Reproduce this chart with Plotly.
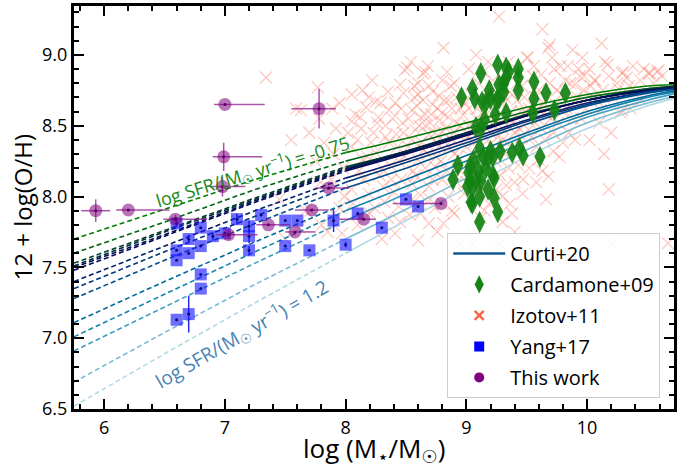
import plotly.graph_objects as go

# ---------------- data ----------------
# Curti+20 model curves: y values at X_GRID, one row per log SFR curve (top = -0.75, bottom = 1.2)
X_GRID = [5.75, 6.5, 7.25, 8.0, 8.5, 9.0, 9.5, 10.0, 10.5, 10.75]
CURTI = [
    [7.70, 7.91, 8.12, 8.31, 8.41, 8.52, 8.63, 8.72, 8.78, 8.79],
    [7.60, 7.82, 8.05, 8.25, 8.36, 8.48, 8.60, 8.70, 8.76, 8.78],
    [7.53, 7.76, 7.99, 8.21, 8.32, 8.45, 8.58, 8.68, 8.76, 8.78],
    [7.51, 7.75, 7.98, 8.20, 8.32, 8.45, 8.57, 8.68, 8.75, 8.78],
    [7.50, 7.73, 7.97, 8.19, 8.31, 8.44, 8.57, 8.68, 8.75, 8.77],
    [7.48, 7.72, 7.96, 8.18, 8.30, 8.43, 8.57, 8.68, 8.75, 8.77],
    [7.40, 7.65, 7.90, 8.13, 8.26, 8.40, 8.54, 8.66, 8.74, 8.77],
    [7.35, 7.61, 7.86, 8.10, 8.24, 8.38, 8.53, 8.65, 8.74, 8.76],
    [7.28, 7.55, 7.81, 8.06, 8.20, 8.36, 8.51, 8.64, 8.73, 8.76],
    [7.11, 7.40, 7.68, 7.95, 8.12, 8.29, 8.45, 8.60, 8.71, 8.75],
    [7.01, 7.31, 7.61, 7.90, 8.07, 8.25, 8.43, 8.58, 8.70, 8.74],
    [6.91, 7.22, 7.53, 7.83, 8.02, 8.21, 8.39, 8.56, 8.68, 8.73],
    [6.69, 7.04, 7.38, 7.70, 7.91, 8.13, 8.33, 8.52, 8.66, 8.71],
    [6.52, 6.89, 7.25, 7.60, 7.83, 8.06, 8.28, 8.48, 8.64, 8.70],
]
DASH_LIMIT = 8.0  # curves are dashed below this mass

# Cardamone+09
CARD_X = [8.96, 9.05, 9.07, 9.12, 9.13, 9.19, 9.20, 9.26, 9.27, 9.27, 9.33, 9.35, 9.43, 9.43, 9.33,
          9.31, 9.43, 9.56, 9.66, 9.56, 9.82, 9.73, 9.55, 9.33, 9.24, 9.15, 9.08, 9.12, 9.31, 9.25,
          9.16, 9.11, 9.14, 9.20, 9.22, 9.18, 9.38, 9.44, 9.47, 9.61, 9.06, 9.03, 8.93, 8.89, 9.03,
          9.08, 9.12, 9.23, 9.01, 9.05, 9.18, 9.11, 9.23, 9.04, 9.05, 9.26, 9.11, 9.16, 9.10, 9.02,
          9.22, 9.28]
CARD_Y = [8.70, 8.76, 8.69, 8.87, 8.67, 8.75, 8.69, 8.93, 8.79, 8.69, 8.91, 8.88, 8.90, 8.84, 8.84,
          8.74, 8.75, 8.81, 8.73, 8.69, 8.73, 8.61, 8.59, 8.59, 8.58, 8.54, 8.49, 8.48, 8.80, 8.68,
          8.66, 8.34, 8.28, 8.32, 8.28, 8.27, 8.31, 8.34, 8.29, 8.28, 8.26, 8.21, 8.22, 8.12, 8.11,
          8.11, 8.11, 8.13, 8.07, 8.06, 8.05, 8.00, 7.99, 7.96, 7.95, 7.89, 7.82, 8.20, 8.18, 8.17,
          8.15, 8.32]

# Izotov+11
IZO_X = [7.34, 7.59, 7.63, 7.77, 7.78, 7.89, 7.79, 7.67, 7.71, 7.85, 7.97, 7.95, 7.90, 7.62, 7.45, 7.99, 7.93,
         8.05, 8.19, 8.25, 8.12, 8.05, 8.27, 8.36, 8.41, 8.36, 8.14, 8.25, 8.38, 8.19, 8.32, 8.44, 8.41,
         8.45, 8.48, 8.47, 8.49, 8.23, 8.10, 8.30, 8.15, 8.05, 8.42, 8.33, 8.20, 8.10, 8.30, 8.49, 8.05, 8.40,
         8.51, 8.64, 8.66, 8.60, 8.69, 8.80, 8.77, 8.55, 8.62, 8.71, 8.80, 8.58, 8.69, 8.80, 8.60, 8.74,
         8.55, 8.69, 8.80, 8.62, 8.74, 8.69, 8.81, 8.60, 8.81, 8.52, 8.65, 8.78, 8.88, 8.92, 8.95, 8.85,
         8.57, 8.90, 8.95, 8.85, 8.94, 8.90, 8.56, 8.72, 8.66, 8.53, 8.88, 8.98, 8.75,
         9.05, 9.27, 9.27, 9.02, 9.10, 9.15, 9.05, 9.00, 9.20, 9.25, 9.30, 9.35, 9.40, 9.45, 9.48, 9.38,
         9.42, 9.10, 9.30, 9.20, 9.35, 9.40, 9.30, 9.38, 9.465, 9.15, 9.05, 9.00, 9.25, 9.45, 9.50, 9.35,
         9.18, 9.12, 9.48, 9.02, 9.22, 9.32, 9.40, 9.08,
         9.51, 9.63, 9.68, 9.69, 9.71, 9.78, 9.88, 9.96, 9.94, 9.90, 9.975, 9.92, 9.80, 9.70, 9.60, 9.55,
         9.65, 9.60, 9.77, 9.68, 9.85, 9.75, 9.55, 9.60, 9.95, 9.58, 9.82, 9.52,
         10.06, 10.07, 10.12, 10.15, 10.17, 10.25, 10.29, 10.30, 10.41, 10.51, 10.52, 10.58, 10.59, 10.28,
         10.29, 10.11, 10.18, 10.21, 10.67, 10.05, 10.35, 10.02,
         8.02, 8.08, 8.13, 8.17, 8.21, 8.26, 8.29, 8.33, 8.35, 8.39, 8.43, 8.46, 8.44, 8.28, 8.18, 8.11,
         8.37, 8.48, 8.22, 8.14, 8.31, 8.46, 8.06, 8.24, 8.35, 8.45,
         8.52, 8.55, 8.57, 8.59, 8.61, 8.63, 8.64, 8.66, 8.68, 8.70, 8.72, 8.74, 8.76, 8.78, 8.79, 8.82,
         8.83, 8.85, 8.86, 8.88, 8.90, 8.92, 8.93, 8.95, 8.97, 8.99, 8.54, 8.68, 8.84, 8.58, 8.66, 8.72,
         8.84, 8.92, 8.98, 8.70, 8.80, 8.90, 8.62, 8.76, 8.55, 8.87, 8.60, 8.75,
         9.02, 9.04, 9.06, 9.09, 9.11, 9.13, 9.16, 9.18, 9.21, 9.23, 9.26, 9.28, 9.30, 9.32, 9.34, 9.37,
         9.39, 9.42, 9.44, 9.46, 9.49, 9.03, 9.08, 9.14, 9.19, 9.24, 9.28, 9.33, 9.36, 9.43, 9.47, 9.12,
         9.30, 9.08, 9.22, 9.40, 9.46, 9.14, 9.26,
         9.52, 9.54, 9.57, 9.59, 9.62, 9.64, 9.66, 9.69, 9.72, 9.74, 9.76, 9.79, 9.83, 9.86, 9.88, 9.91,
         9.93, 9.97, 9.99, 9.56, 9.62, 9.73, 9.84, 9.58, 9.63, 9.72, 9.80, 9.90, 9.66,
         10.03, 10.08, 10.13, 10.18, 10.22, 10.26, 10.33, 10.38, 10.44, 10.47, 10.55, 10.62, 10.10, 10.20,
         10.36, 10.45, 10.02, 10.14,
         7.70, 7.82, 7.92, 7.98, 7.88, 7.75, 7.55, 7.95, 7.80, 7.50]
IZO_Y = [8.84, 8.62, 8.61, 8.77, 8.55, 8.62, 8.10, 7.90, 7.90, 7.75, 7.74, 8.66, 8.30, 7.78, 7.98, 8.00, 7.86,
         8.72, 8.70, 8.67, 8.56, 8.53, 8.56, 8.61, 8.66, 8.38, 8.26, 8.31, 8.12, 8.02, 7.96, 7.93, 7.74,
         8.79, 8.73, 8.52, 8.28, 8.45, 8.40, 8.20, 8.12, 8.35, 8.44, 8.50, 7.88, 7.80, 7.70, 8.89, 8.05, 8.03,
         8.91, 8.87, 8.88, 8.80, 8.78, 8.82, 8.71, 8.61, 8.56, 8.58, 8.59, 8.47, 8.44, 8.46, 8.26, 8.21,
         8.09, 8.07, 8.12, 8.01, 7.92, 7.81, 7.81, 7.69, 9.05, 8.35, 8.33, 8.36, 8.40, 8.52, 8.62, 8.68,
         8.70, 8.30, 8.18, 8.00, 7.67, 8.80, 8.18, 8.65, 8.50, 7.87, 7.90, 8.40, 8.28,
         7.67, 7.67, 9.27, 8.90, 8.80, 8.60, 8.45, 8.35, 8.45, 8.55, 8.65, 8.50, 8.45, 8.60, 8.70, 8.72,
         8.80, 8.40, 8.40, 8.20, 8.20, 8.10, 8.00, 7.88, 8.02, 7.90, 8.20, 8.10, 8.05, 8.35, 8.98, 8.95,
         8.95, 8.70, 8.50, 8.62, 8.35, 8.30, 7.75, 8.55,
         8.98, 9.18, 9.05, 9.07, 8.98, 8.92, 9.035, 8.98, 8.85, 8.79, 8.85, 8.70, 8.60, 8.55, 8.62, 8.50,
         8.40, 8.26, 8.28, 8.14, 8.45, 8.75, 8.85, 8.75, 8.55, 8.35, 8.82, 8.20,
         8.82, 8.82, 9.08, 8.95, 8.93, 8.80, 8.87, 8.88, 8.74, 8.87, 8.87, 8.88, 8.89, 8.59,
         8.61, 8.61, 8.05, 7.67, 7.67, 8.70, 8.78, 8.90,
         8.45, 8.58, 8.48, 8.63, 8.38, 8.52, 8.66, 8.42, 8.74, 8.55, 8.35, 8.62, 8.25, 8.15, 8.28, 8.18,
         8.22, 8.45, 8.82, 8.75, 8.07, 8.12, 7.95, 7.92, 7.85, 7.82,
         8.55, 8.40, 8.78, 8.64, 8.50, 8.38, 8.68, 8.58, 8.30, 8.52, 8.74, 8.45, 8.62, 8.54, 8.25, 8.68,
         8.48, 8.56, 8.35, 8.62, 8.45, 8.70, 8.28, 8.50, 8.58, 8.66, 8.95, 8.92, 8.88, 8.15, 8.20, 8.12,
         8.18, 8.10, 8.02, 7.98, 7.95, 7.88, 7.88, 7.75, 7.98, 8.78, 8.72, 8.38,
         8.50, 8.72, 8.38, 8.62, 8.48, 8.30, 8.52, 8.40, 8.62, 8.50, 8.42, 8.58, 8.48, 8.70, 8.38, 8.60,
         8.52, 8.68, 8.48, 8.42, 8.60, 8.28, 8.15, 8.05, 7.95, 8.25, 8.15, 8.08, 7.95, 8.22, 8.12, 7.85,
         7.82, 9.00, 8.82, 8.88, 8.78, 8.88, 8.72,
         8.62, 8.42, 8.70, 8.55, 8.48, 8.66, 8.58, 8.80, 8.45, 8.65, 8.52, 8.72, 8.62, 8.80, 8.55, 8.68,
         8.90, 8.75, 8.62, 8.92, 8.86, 8.90, 8.92, 8.10, 8.18, 8.32, 8.38, 8.40, 7.98,
         8.78, 8.68, 8.75, 8.85, 8.70, 8.76, 8.84, 8.92, 8.82, 8.90, 8.80, 8.85, 8.52, 8.45,
         8.62, 8.68, 8.40, 8.30,
         8.45, 8.38, 8.48, 8.20, 8.12, 8.25, 8.40, 7.92, 7.80, 7.70]

# Yang+17
YANG_X = [6.60, 6.60, 6.60, 6.60, 6.70, 6.70, 6.70, 6.80, 6.80, 6.80, 6.80, 6.90, 7.00, 7.10,
          7.20, 7.20, 7.20, 7.30, 7.50, 7.50, 7.60, 7.70, 7.90, 8.00, 8.10, 8.30, 8.50, 8.60]
YANG_Y = [7.81, 7.62, 7.55, 7.13, 7.70, 7.60, 7.17, 7.78, 7.65, 7.45, 7.35, 7.72, 7.74, 7.84,
          7.79, 7.72, 7.62, 7.87, 7.83, 7.65, 7.83, 7.62, 7.83, 7.66, 7.88, 7.78, 7.98, 7.93]
YANG_YERR = [0.03, 0.0, 0.0, 0.0, 0.03, 0.0, 0.13, 0.0, 0.0, 0.0, 0.0, 0.03, 0.0, 0.04,
             0.04, 0.05, 0.03, 0.0, 0.0, 0.0, 0.0, 0.0, 0.08, 0.02, 0.0, 0.0, 0.0, 0.0]

# This work
TW_X = [5.93, 6.20, 6.59, 7.00, 6.99, 6.98, 7.78, 7.86, 7.72, 7.03, 7.36, 7.58, 8.15, 8.79]
TW_Y = [7.90, 7.905, 7.84, 8.65, 8.28, 8.07, 8.62, 8.06, 7.905, 7.73, 7.80, 7.75, 7.84, 7.95]
TW_XERR_LO = [0.12, 0.10, 0.10, 0.09, 0.09, 0.10, 0.23, 0.10, 0.14, 0.10, 0.10, 0.08, 0.20, 0.40]
TW_XERR_HI = [0.12, 0.34, 0.26, 0.33, 0.32, 0.19, 0.14, 0.17, 0.14, 0.24, 0.18, 0.17, 0.10, 0.0]
TW_YERR = [0.08, 0.0, 0.03, 0.0, 0.10, 0.07, 0.14, 0.0, 0.0, 0.03, 0.0, 0.0, 0.0, 0.0]

X_TICKS = [6, 7, 8, 9, 10]
Y_TICKS = [6.5, 7.0, 7.5, 8.0, 8.5, 9.0]
Y_TICK_LABELS = ["6.5", "7.0", "7.5", "8.0", "8.5", "9.0"]

# ---------------- styles ----------------
CURVE_COLORS = [
    "rgb(0,128,0)", "rgb(0,100,22)", "rgb(0,70,42)", "rgb(0,42,62)", "rgb(0,16,80)",
    "rgb(0,10,92)", "rgb(0,30,106)", "rgb(0,55,122)", "rgb(0,80,140)", "rgb(0,106,157)",
    "rgb(22,132,172)", "rgb(62,158,192)", "rgb(122,187,211)", "rgb(176,216,229)",
]
FONT = "Open Sans, DejaVu Sans, sans-serif"

fig = go.Figure()

# Izotov+11 crosses (drawn first, underneath)
fig.add_trace(go.Scatter(
    x=IZO_X, y=IZO_Y, mode="markers", showlegend=False,
    marker=dict(symbol="x-thin-open", size=12, color="rgba(250,115,95,0.4)",
                line=dict(width=1.2, color="rgba(250,115,95,0.4)")),
))

# Curti+20 curves: dashed part below DASH_LIMIT, solid above
for row, col in zip(CURTI, CURVE_COLORS):
    xd = [x for x in X_GRID if x <= DASH_LIMIT]
    yd = [y for x, y in zip(X_GRID, row) if x <= DASH_LIMIT]
    xs = [x for x in X_GRID if x >= DASH_LIMIT]
    ys = [y for x, y in zip(X_GRID, row) if x >= DASH_LIMIT]
    fig.add_trace(go.Scatter(x=xd, y=yd, mode="lines", showlegend=False,
                             line=dict(color=col, width=1.6, dash="5px,3px")))
    fig.add_trace(go.Scatter(x=xs, y=ys, mode="lines", showlegend=False,
                             line=dict(color=col, width=1.6, shape="spline", smoothing=0.8)))

# Cardamone+09
fig.add_trace(go.Scatter(
    x=CARD_X, y=CARD_Y, mode="markers", showlegend=False,
    marker=dict(symbol="diamond-tall", size=16, color="rgba(20,130,20,0.92)", line=dict(width=0)),
))

# Yang+17
fig.add_trace(go.Scatter(
    x=YANG_X, y=YANG_Y, mode="markers", showlegend=False,
    error_y=dict(type="data", array=YANG_YERR, color="rgb(40,40,240)", thickness=1.5, width=0),
    marker=dict(symbol="square", size=12, color="rgba(20,20,255,0.62)", line=dict(width=0)),
))
fig.add_trace(go.Scatter(
    x=YANG_X, y=YANG_Y, mode="markers", showlegend=False,
    marker=dict(symbol="circle", size=3, color="rgb(10,10,120)"),
))

# This work
fig.add_trace(go.Scatter(
    x=TW_X, y=TW_Y, mode="markers", showlegend=False,
    error_x=dict(type="data", symmetric=False, array=TW_XERR_HI, arrayminus=TW_XERR_LO,
                 color="rgba(140,30,140,0.75)", thickness=1.5, width=0),
    error_y=dict(type="data", array=TW_YERR, color="rgba(140,30,140,0.75)", thickness=1.5, width=0),
    marker=dict(symbol="circle", size=13, color="rgba(128,0,128,0.55)", line=dict(width=0)),
))
fig.add_trace(go.Scatter(
    x=TW_X, y=TW_Y, mode="markers", showlegend=False,
    marker=dict(symbol="circle", size=3, color="rgb(90,0,90)"),
))

# legend-only entries
legend_items = [
    ("Curti+20", dict(mode="lines", line=dict(color="rgb(20,88,145)", width=2.5))),
    ("Cardamone+09", dict(mode="markers", marker=dict(symbol="diamond-tall", size=13, color="rgb(20,130,20)"))),
    ("Izotov+11", dict(mode="markers", marker=dict(symbol="x-thin-open", size=9, color="tomato",
                                                   line=dict(width=2.5, color="tomato")))),
    ("Yang+17", dict(mode="markers", marker=dict(symbol="square", size=10, color="blue"))),
    ("This work", dict(mode="markers", marker=dict(symbol="circle", size=10, color="purple"))),
]
for i, (name, kw) in enumerate(legend_items):
    fig.add_trace(go.Scatter(x=[None], y=[None], name=name, legendgroup=f"g{i}", **kw))

# annotations for the SFR labels
fig.add_annotation(x=7.23, y=8.175, xref="x", yref="y", text="log SFR/(M<sub>☉</sub> yr<sup>−1</sup>) = -0.75",
                   showarrow=False, textangle=-17, font=dict(family=FONT, size=18, color="rgb(25,135,25)"))
fig.add_annotation(x=7.14, y=7.03, xref="x", yref="y", text="log SFR/(M<sub>☉</sub> yr<sup>−1</sup>) = 1.2",
                   showarrow=False, textangle=-30, font=dict(family=FONT, size=19, color="rgb(70,130,180)"))

axis_common = dict(
    showline=True, linewidth=3, linecolor="black", mirror="ticks",
    ticks="inside", ticklen=10, tickwidth=2, tickcolor="black",
    showgrid=False, zeroline=False,
    tickfont=dict(family=FONT, size=18, color="black"),
)
fig.update_xaxes(range=[5.75, 10.72], tickvals=X_TICKS, ticktext=[str(v) for v in X_TICKS],
                 minor=dict(dtick=0.2, tick0=0, ticks="inside", ticklen=5, tickwidth=1.5, tickcolor="black"),
                 **axis_common)
fig.update_yaxes(range=[6.5, 9.345], tickvals=Y_TICKS, ticktext=Y_TICK_LABELS,
                 minor=dict(dtick=0.1, tick0=0, ticks="inside", ticklen=5, tickwidth=1.5, tickcolor="black"),
                 **axis_common)

fig.add_annotation(xref="paper", yref="paper", x=0.5, y=0, yanchor="middle", yshift=-40, showarrow=False,
                   text="log (M<sub>⋆</sub>/M<sub>☉</sub>)", font=dict(family=FONT, size=26, color="black"))
fig.add_annotation(xref="paper", yref="paper", x=0, y=0.5, xanchor="center", yanchor="middle", xshift=-52,
                   showarrow=False, textangle=-90, text="12 + log(O/H)",
                   font=dict(family=FONT, size=24, color="black"))

fig.update_layout(
    width=678, height=470,
    margin=dict(l=74, r=1, t=6, b=61),
    plot_bgcolor="white", paper_bgcolor="white",
    font=dict(family=FONT, size=18, color="black"),
    legend=dict(x=0.622, y=0.437, xanchor="left", yanchor="top",
                bgcolor="rgba(255,255,255,0.85)", bordercolor="#cccccc", borderwidth=1,
                font=dict(family=FONT, size=20, color="black"),
                traceorder="grouped", tracegroupgap=2, itemwidth=52),
)

fig.write_html("out.html")
